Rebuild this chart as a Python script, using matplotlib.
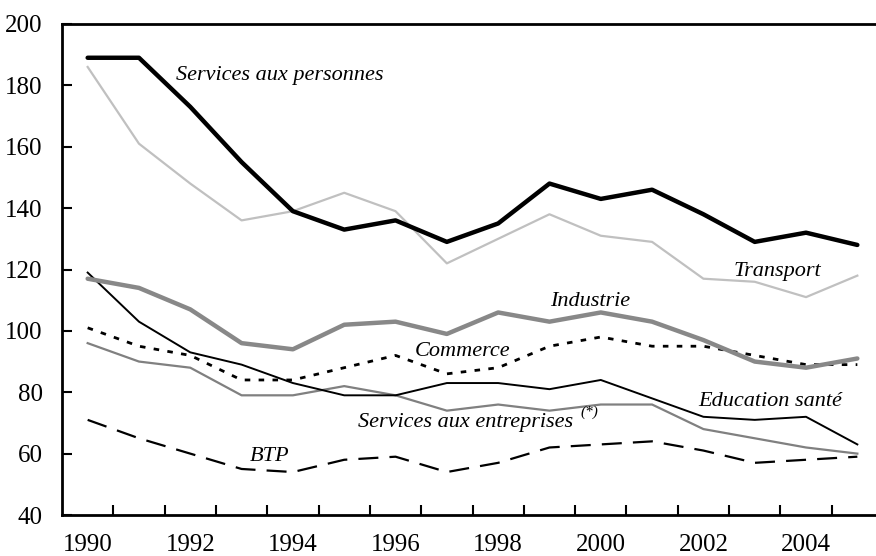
import matplotlib
matplotlib.use("Agg")
import matplotlib.pyplot as plt
import numpy as np

years = list(range(1990, 2006))

personnes = [189, 189, 173, 155, 139, 133, 136, 129, 135, 148, 143, 146, 138, 129, 132, 128]
transport = [186, 161, 148, 136, 139, 145, 139, 122, 130, 138, 131, 129, 117, 116, 111, 118]
industrie = [117, 114, 107, 96, 94, 102, 103, 99, 106, 103, 106, 103, 97, 90, 88, 91]
commerce = [101, 95, 92, 84, 84, 88, 92, 86, 88, 95, 98, 95, 95, 92, 89, 89]
education = [119, 103, 93, 89, 83, 79, 79, 83, 83, 81, 84, 78, 72, 71, 72, 63]
entreprises = [96, 90, 88, 79, 79, 82, 79, 74, 76, 74, 76, 76, 68, 65, 62, 60]
btp = [71, 65, 60, 55, 54, 58, 59, 54, 57, 62, 63, 64, 61, 57, 58, 59]

year_labels = ["1990", "1992", "1994", "1996", "1998", "2000", "2002", "2004"]
y_ticks = [40, 60, 80, 100, 120, 140, 160, 180, 200]

plt.rcParams['font.family'] = ['Liberation Serif', 'DejaVu Serif']

fig = plt.figure(figsize=(8.76, 5.56), dpi=100)
ax = fig.add_axes([62/876, 1-515/556, 821/876, 491/556])

ax.plot(years, transport, color='#c0c0c0', lw=1.6)
ax.plot(years, entreprises, color='#808080', lw=1.6)
ax.plot(years, education, color='black', lw=1.4)
ax.plot(years, btp, color='black', lw=1.6, dashes=(9, 5))
ax.plot(years, commerce, color='black', lw=2.0, dashes=(2, 3))
ax.plot(years, industrie, color='#888888', lw=3.2, solid_capstyle='round')
ax.plot(years, personnes, color='black', lw=3.2, solid_capstyle='round')

fs = 16
ax.text(1991.72, 183.1, "Services aux personnes", style='italic', fontsize=fs, ha='left', va='center')
ax.text(2003.45, 119.3, "Transport", style='italic', fontsize=fs, ha='center', va='center')
ax.text(1999.79, 109.5, "Industrie", style='italic', fontsize=fs, ha='center', va='center')
ax.text(1997.3, 93.2, "Commerce", style='italic', fontsize=fs, ha='center', va='center')
ax.text(2003.3, 77, "Education santé", style='italic', fontsize=fs, ha='center', va='center')
ax.text(1995.27, 70, "Services aux entreprises", style='italic', fontsize=fs,
        ha='left', va='center')
ax.text(1999.6, 73.5, "(*)", style='italic', fontsize=11, ha='left', va='center')
ax.text(1993.55, 59, "BTP", style='italic', fontsize=fs, ha='center', va='center')

ax.set_xlim(1989.5, 2005.5)
ax.set_ylim(40, 200)
ax.set_yticks(y_ticks)
ax.set_xticks([int(s) for s in year_labels])
ax.set_xticklabels(year_labels)
ax.set_xticks(np.arange(1990.5, 2005.5, 1), minor=True)
ax.tick_params(axis='x', which='major', length=0, pad=14, labelsize=18)
ax.tick_params(axis='x', which='minor', direction='in', length=7, width=1.5)
ax.tick_params(axis='y', direction='in', length=7, width=1.5, pad=14, labelsize=18)
ax.spines['right'].set_visible(False)
for s in ['left', 'bottom', 'top']:
    ax.spines[s].set_linewidth(2)

fig.savefig("out.png", dpi=100)
